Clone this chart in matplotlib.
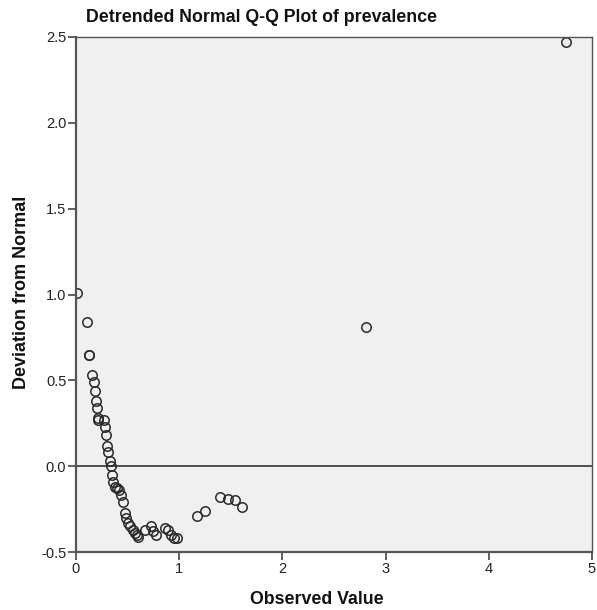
import numpy as np
import matplotlib.pyplot as plt

plt.rcParams['font.family'] = ['Liberation Sans', 'DejaVu Sans']

observed = [0.01, 0.11, 0.13, 0.13, 0.155, 0.175, 0.185, 0.19, 0.20, 0.21, 0.21,
            0.27, 0.28, 0.29, 0.30, 0.31, 0.33, 0.34, 0.35, 0.36, 0.38, 0.40,
            0.42, 0.44, 0.46, 0.47, 0.48, 0.50, 0.52, 0.55, 0.57, 0.59, 0.60,
            0.67, 0.73, 0.75, 0.78, 0.86, 0.89, 0.92, 0.95, 0.98,
            1.17, 1.25, 1.40, 1.47, 1.54, 1.61, 2.81, 4.75]
deviation = [1.01, 0.84, 0.65, 0.65, 0.53, 0.49, 0.44, 0.38, 0.34, 0.28, 0.27,
             0.27, 0.23, 0.18, 0.12, 0.08, 0.03, -0.00, -0.05, -0.09, -0.12, -0.13,
             -0.14, -0.17, -0.21, -0.27, -0.30, -0.33, -0.35, -0.37, -0.39, -0.40, -0.41,
             -0.37, -0.35, -0.38, -0.40, -0.36, -0.37, -0.40, -0.42, -0.42,
             -0.29, -0.26, -0.18, -0.19, -0.20, -0.24, 0.81, 2.47]

fig = plt.figure(figsize=(5.97, 6.10), dpi=100)
ax = fig.add_axes([76 / 597, 1 - 552 / 610, 516 / 597, 515 / 610])
ax.set_facecolor('#f0f0f0')

ax.axhline(0, color='#222222', lw=1.1, zorder=1)
ax.plot(observed, deviation, linestyle='none', marker='o', markersize=6.8,
        markerfacecolor='none', markeredgecolor='#2a2a2a', markeredgewidth=1.1, zorder=2)

ax.set_xlim(0, 5)
ax.set_ylim(-0.5, 2.5)
ax.set_xticks([0, 1, 2, 3, 4, 5])
ax.set_yticks([-0.5, 0.0, 0.5, 1.0, 1.5, 2.0, 2.5])
ax.set_yticklabels(['-0.5', '0.0', '0.5', '1.0', '1.5', '2.0', '2.5'])
ax.tick_params(direction='out', length=6, width=1.2, color='#444444',
               labelsize=10.5, labelcolor='#222222', pad=1)
for s in ax.spines.values():
    s.set_color('#555555')
    s.set_linewidth(1.0)
ax.spines['left'].set_linewidth(1.6)
ax.spines['bottom'].set_linewidth(1.6)

fig.text(261 / 597, 1 - 18 / 610, 'Detrended Normal Q-Q Plot of prevalence',
         ha='center', va='center', fontsize=12.8, fontweight='bold', color='#111111')
fig.text(317 / 597, 1 - 599 / 610, 'Observed Value', ha='center', va='center',
         fontsize=12.8, fontweight='bold', color='#111111')
fig.text(22 / 597, 1 - 292 / 610, 'Deviation from Normal', ha='center', va='center',
         rotation=90, fontsize=13, fontweight='bold', color='#111111')

fig.savefig('out.png', dpi=100)
